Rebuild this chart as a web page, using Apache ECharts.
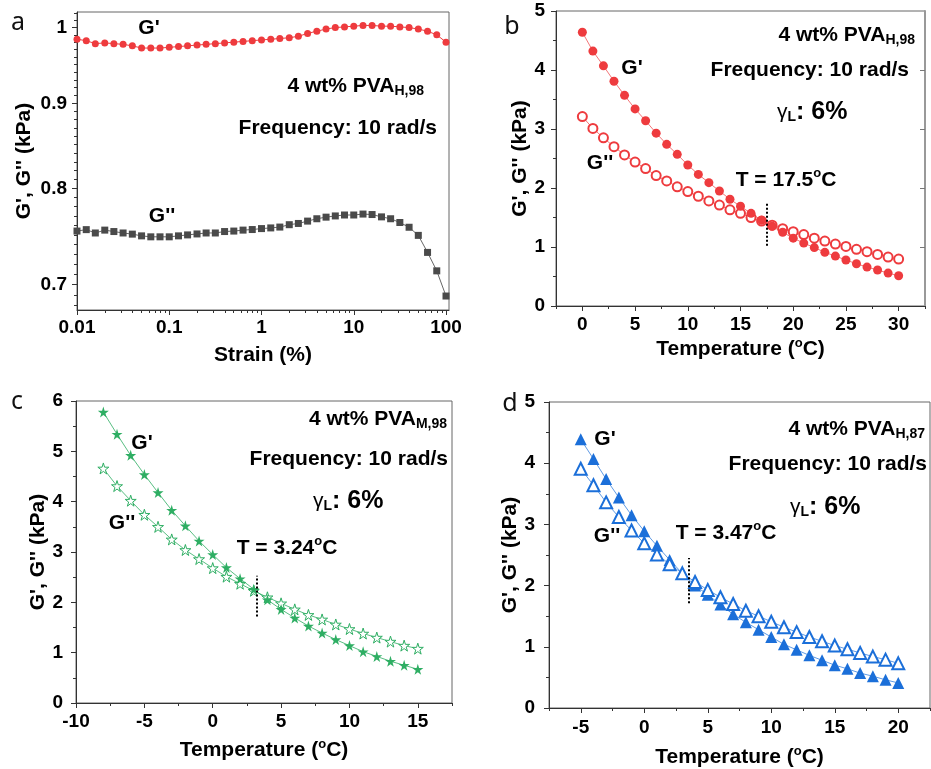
<!DOCTYPE html>
<html>
<head>
<meta charset="utf-8">
<script src="https://cdn.jsdelivr.net/npm/echarts@6/dist/echarts.min.js"></script>
<style>
  html, body { margin: 0; padding: 0; background: #fff; }
  #chart { width: 931px; height: 769px; }
</style>
</head>
<body>
<div id="chart"></div>
<script>
// ---- data ----
// (a) strain sweep, 4 wt% PVA H,98
const strain = [0.01, 0.0126, 0.0158, 0.02, 0.0251, 0.0316, 0.0398, 0.0501, 0.0631, 0.0794,
  0.1, 0.126, 0.158, 0.2, 0.251, 0.316, 0.398, 0.501, 0.631, 0.794,
  1, 1.26, 1.58, 2, 2.51, 3.16, 3.98, 5.01, 6.31, 7.94,
  10, 12.6, 15.8, 20, 25.1, 31.6, 39.8, 50.1, 63.1, 79.4, 100]
const strainG1 = [0.984, 0.982, 0.978, 0.979, 0.978, 0.977, 0.975, 0.972, 0.972, 0.972,
  0.973, 0.974, 0.975, 0.976, 0.977, 0.978, 0.979, 0.980, 0.981, 0.982,
  0.983, 0.984, 0.985, 0.986, 0.988, 0.992, 0.995, 0.998, 1.000, 1.001,
  1.002, 1.003, 1.003, 1.002, 1.002, 1.001, 1.000, 0.998, 0.995, 0.990, 0.980]
const strainG2 = [0.754, 0.7555, 0.752, 0.755, 0.7535, 0.752, 0.7508, 0.749, 0.748, 0.748,
  0.748, 0.749, 0.750, 0.751, 0.752, 0.752, 0.7535, 0.754, 0.755, 0.7556,
  0.7566, 0.7573, 0.7582, 0.7607, 0.762, 0.7645, 0.767, 0.7687, 0.770, 0.771,
  0.771, 0.772, 0.7715, 0.769, 0.767, 0.763, 0.758, 0.7495, 0.732, 0.7135, 0.689]
const aYTicks = [1, 0.9, 0.8, 0.7]
const aXTicks = [0.01, 0.1, 1, 10, 100]

// (b) temperature sweep, PVA H,98
const tempB = [0, 1, 2, 3, 4, 5, 6, 7, 8, 9, 10, 11, 12, 13, 14, 15, 16, 17, 18, 19, 20,
  21, 22, 23, 24, 25, 26, 27, 28, 29, 30]
const bG1 = [4.64, 4.32, 4.07, 3.81, 3.57, 3.34, 3.14, 2.93, 2.74, 2.57, 2.39, 2.23, 2.09, 1.95,
  1.81, 1.69, 1.57, 1.455, 1.35, 1.25, 1.15, 1.066, 0.99, 0.91, 0.846, 0.78, 0.716, 0.66, 0.61, 0.558, 0.513]
const bG2 = [3.21, 3.01, 2.85, 2.70, 2.56, 2.44, 2.33, 2.21, 2.12, 2.02, 1.94, 1.86, 1.78, 1.71,
  1.63, 1.57, 1.50, 1.44, 1.37, 1.31, 1.26, 1.21, 1.15, 1.10, 1.05, 1.01, 0.96, 0.92, 0.875, 0.83, 0.795]
const bCross = 17.5

// (c) temperature sweep, PVA M,98
const tempC = [-8, -7, -6, -5, -4, -3, -2, -1, 0, 1, 2, 3, 4, 5, 6, 7, 8, 9, 10, 11, 12, 13, 14, 15]
const cG1 = [5.78, 5.34, 4.92, 4.54, 4.18, 3.83, 3.52, 3.22, 2.95, 2.69, 2.47, 2.26, 2.05, 1.86,
  1.69, 1.53, 1.39, 1.26, 1.14, 1.02, 0.925, 0.83, 0.75, 0.67]
const cG2 = [4.66, 4.31, 4.02, 3.74, 3.50, 3.25, 3.04, 2.86, 2.68, 2.51, 2.37, 2.23, 2.10, 1.98,
  1.86, 1.75, 1.66, 1.56, 1.47, 1.38, 1.30, 1.22, 1.14, 1.08]
const cCross = 3.24

// (d) temperature sweep, PVA H,87
const tempD = [-5, -4, -3, -2, -1, 0, 1, 2, 3, 4, 5, 6, 7, 8, 9, 10, 11, 12, 13, 14, 15, 16, 17, 18, 19, 20]
const dG1 = [4.39, 4.07, 3.74, 3.44, 3.15, 2.89, 2.65, 2.42, 2.20, 2.00, 1.85, 1.69, 1.53, 1.40,
  1.28, 1.16, 1.04, 0.95, 0.86, 0.78, 0.70, 0.64, 0.57, 0.52, 0.46, 0.41]
const dG2 = [3.91, 3.64, 3.36, 3.12, 2.90, 2.69, 2.51, 2.35, 2.20, 2.06, 1.93, 1.81, 1.70, 1.59,
  1.50, 1.41, 1.32, 1.24, 1.16, 1.09, 1.02, 0.96, 0.90, 0.84, 0.79, 0.73]
const dCross = 3.47

const bXTicks = [0, 5, 10, 15, 20, 25, 30]
const cXTicks = [-10, -5, 0, 5, 10, 15]
const dXTicks = [-5, 0, 5, 10, 15, 20]

// ---- styling ----
const FONT = "'Liberation Sans', Arial, sans-serif"
const RED = '#ee3b3e'
const GREY = '#4a4a4a'
const GREEN = '#2eae63'
const BLUE = '#1b6fd9'
const STAR = 'path://M50,0 L61,35 L98,35 L68,57 L79,91 L50,70 L21,91 L32,57 L2,35 L39,35 Z'

const lg = Math.log10
const range = (a, b, s) => { const r = []; for (let v = a; v <= b + 1e-9; v += s) r.push(+v.toFixed(4)); return r }

const supRich = { sup: { fontSize: 13, fontWeight: 'bold', fontFamily: FONT, color: '#000', padding: [0, 0, 12, 0] } }
const nameStyle = { fontFamily: FONT, fontWeight: 'bold', fontSize: 21, color: '#000', rich: supRich }
const labelStyle = { fontFamily: FONT, fontWeight: 'bold', fontSize: 19, color: '#000' }

function majorX(grid, min, max, ticks, name, gap, margin, fmt) {
  return {
    type: 'value', gridIndex: grid, min: min, max: max, position: 'bottom',
    name: name, nameLocation: 'middle', nameGap: gap, nameTextStyle: nameStyle,
    axisLine: { show: true, onZero: false, lineStyle: { color: '#333', width: 1 } },
    axisTick: { show: true, customValues: ticks, length: 5, lineStyle: { color: '#333' } },
    axisLabel: Object.assign({ customValues: ticks, margin: margin, formatter: fmt }, labelStyle),
    splitLine: { show: false }
  }
}
function minorAxis(grid, min, max, ticks, pos) {
  return {
    type: 'value', gridIndex: grid, min: min, max: max, position: pos,
    axisLine: { show: false, onZero: false },
    axisTick: { show: true, customValues: ticks, length: 3, lineStyle: { color: '#333' } },
    axisLabel: { show: false }, splitLine: { show: false }
  }
}
function majorY(grid, min, max, ticks, gap, margin, fmt) {
  return {
    type: 'value', gridIndex: grid, min: min, max: max, position: 'left',
    name: "G', G'' (kPa)", nameLocation: 'middle', nameGap: gap, nameTextStyle: nameStyle,
    axisLine: { show: true, onZero: false, lineStyle: { color: '#333', width: 1 } },
    axisTick: { show: true, customValues: ticks, length: 5, lineStyle: { color: '#333' } },
    axisLabel: Object.assign({ customValues: ticks, margin: margin, formatter: fmt }, labelStyle),
    splitLine: { show: false }
  }
}

const gridBase = { show: true, borderColor: '#666', borderWidth: 1, backgroundColor: 'transparent' }

// panel a uses log10 coordinates on value axes
const aXMin = -2, aXMax = 2.0325, aYMin = -0.1702, aYMax = 0.0094
const powFmt = v => String(+Math.pow(10, v).toFixed(2))
const aXMinor = []
for (let d = -2; d < 2; d++) for (let m = 2; m <= 9; m++) aXMinor.push(d + lg(m))
const aYMinor = range(0.68, 1.02, 0.01).map(lg)

const xAxes = [
  majorX(0, aXMin, aXMax, aXTicks.map(lg), 'Strain (%)', 35, 8, powFmt),
  minorAxis(0, aXMin, aXMax, aXMinor, 'bottom'),
  majorX(1, -2.5, 32.5, bXTicks, 'Temperature ({sup|o}C)', 31, 9),
  minorAxis(1, -2.5, 32.5, range(-2.5, 32.5, 2.5), 'bottom'),
  majorX(2, -10, 17.5, cXTicks, 'Temperature ({sup|o}C)', 35, 9),
  minorAxis(2, -10, 17.5, range(-10, 17.5, 2.5), 'bottom'),
  majorX(3, -7.5, 22.5, dXTicks, 'Temperature ({sup|o}C)', 37, 10),
  minorAxis(3, -7.5, 22.5, range(-7.5, 22.5, 2.5), 'bottom')
]
const yAxes = [
  majorY(0, aYMin, aYMax, aYTicks.map(lg), 42, 10, v => String(+Math.pow(10, v).toFixed(1))),
  minorAxis(0, aYMin, aYMax, aYMinor, 'left'),
  majorY(1, 0, 5, [0, 1, 2, 3, 4, 5], 24, 11),
  minorAxis(1, 0, 5, range(0, 5, 0.5), 'left'),
  {
    type: 'value', gridIndex: 1, min: 0, max: 5, position: 'right',
    axisLine: { show: true, onZero: false, lineStyle: { color: '#999', width: 2 } },
    axisTick: { show: true, inside: true, customValues: [1, 2, 3, 4], length: 5, lineStyle: { color: '#777' } },
    axisLabel: { show: false }, splitLine: { show: false }
  },
  majorY(2, 0, 6, [0, 1, 2, 3, 4, 5, 6], 27, 13),
  minorAxis(2, 0, 6, range(0, 6, 0.5), 'left'),
  majorY(3, 0, 5, [0, 1, 2, 3, 4, 5], 25, 14),
  minorAxis(3, 0, 5, range(0, 5, 0.5), 'left')
]

const dotted = (x, y1, y2) => ({
  silent: true, symbol: 'none', label: { show: false },
  lineStyle: { color: '#000', type: 'dotted', width: 2 },
  data: [[{ coord: [x, y1] }, { coord: [x, y2] }]]
})
const zip = (xs, ys) => xs.map((x, i) => [x, ys[i]])

const series = [
  {
    name: "G'", type: 'line', xAxisIndex: 0, yAxisIndex: 0,
    data: strain.map((x, i) => [lg(x), lg(strainG1[i])]),
    symbol: 'circle', symbolSize: 7, itemStyle: { color: RED }, lineStyle: { color: RED, width: 1 }
  },
  {
    name: "G''", type: 'line', xAxisIndex: 0, yAxisIndex: 0,
    data: strain.map((x, i) => [lg(x), lg(strainG2[i])]),
    symbol: 'rect', symbolSize: 7, itemStyle: { color: GREY }, lineStyle: { color: '#666', width: 1 }
  },
  {
    name: "G''", type: 'line', xAxisIndex: 2, yAxisIndex: 2, data: zip(tempB, bG2),
    symbol: 'emptyCircle', symbolSize: 9, itemStyle: { color: RED, borderWidth: 1 }, lineStyle: { color: RED, width: 1, opacity: 0.7 }
  },
  {
    name: "G'", type: 'line', xAxisIndex: 2, yAxisIndex: 2, data: zip(tempB, bG1),
    symbol: 'circle', symbolSize: 9, itemStyle: { color: RED }, lineStyle: { color: RED, width: 1, opacity: 0.7 },
    markLine: dotted(bCross, 1.02, 1.75)
  },
  {
    name: "G''", type: 'line', xAxisIndex: 4, yAxisIndex: 5, data: zip(tempC, cG2),
    symbol: STAR, symbolSize: 11, itemStyle: { color: '#fff', borderColor: GREEN, borderWidth: 1 },
    lineStyle: { color: GREEN, width: 1, opacity: 0.8 }
  },
  {
    name: "G'", type: 'line', xAxisIndex: 4, yAxisIndex: 5, data: zip(tempC, cG1),
    symbol: STAR, symbolSize: 11, itemStyle: { color: GREEN }, lineStyle: { color: GREEN, width: 1, opacity: 0.8 },
    markLine: dotted(cCross, 1.72, 2.53)
  },
  {
    name: "G'", type: 'line', xAxisIndex: 6, yAxisIndex: 7, data: zip(tempD, dG1),
    symbol: 'triangle', symbolSize: 12, itemStyle: { color: BLUE }, lineStyle: { color: BLUE, width: 1, opacity: 0.7 },
    markLine: dotted(dCross, 1.71, 2.45)
  },
  {
    name: "G''", type: 'line', xAxisIndex: 6, yAxisIndex: 7, data: zip(tempD, dG2),
    symbol: 'emptyTriangle', symbolSize: 12, itemStyle: { color: BLUE, borderWidth: 1 },
    lineStyle: { color: BLUE, width: 1, opacity: 0.7 }
  }
]
series.forEach(s => { s.animation = false })

// ---- text annotations ----
const bold = (size) => ({ fontFamily: FONT, fontWeight: 'bold', fontSize: size, fill: '#000' })
const richDefs = {
  m: { fontFamily: FONT, fontWeight: 'bold', fontSize: 21, color: '#000' },
  s: { fontFamily: FONT, fontWeight: 'bold', fontSize: 14, color: '#000', padding: [11, 0, 0, 0] },
  g: { fontFamily: FONT, fontWeight: 'normal', fontSize: 21, color: '#000' },
  b: { fontFamily: FONT, fontWeight: 'bold', fontSize: 25, color: '#000' },
  t: { fontFamily: FONT, fontWeight: 'bold', fontSize: 21, color: '#000' },
  sup: { fontFamily: FONT, fontWeight: 'bold', fontSize: 13, color: '#000', padding: [0, 0, 13, 0] }
}
function txt(x, y, text, align, size) {
  return {
    type: 'text', x: x, y: y, silent: true,
    style: Object.assign(bold(size || 21), { text: text, align: align || 'left', verticalAlign: 'middle', rich: richDefs })
  }
}
function letter(x, y, t) {
  return {
    type: 'text', x: x, y: y, silent: true,
    style: { text: t, fontFamily: "'Noto Sans', sans-serif", fontSize: 25, fill: '#111', align: 'center', verticalAlign: 'middle' }
  }
}

const graphics = [
  letter(18, 23, 'a'), letter(512, 27, 'b'), letter(17, 402, 'c'), letter(510, 404, 'd'),
  // a
  txt(149, 28, "G'", 'center'),
  txt(162, 216, "G''", 'center'),
  txt(424, 86, '{m|4 wt% PVA}{s|H,98}', 'right'),
  txt(437, 128, 'Frequency: 10 rad/s', 'right'),
  // b
  txt(632, 68, "G'", 'center'),
  txt(600, 163, "G''", 'center'),
  txt(915, 35, '{m|4 wt% PVA}{s|H,98}', 'right'),
  txt(909, 70, 'Frequency: 10 rad/s', 'right'),
  txt(777, 112, '{g|γ}{s|L}{b|: 6%}', 'left'),
  txt(786, 180, '{t|T = 17.5}{sup|o}{t|C}', 'center'),
  // c
  txt(142, 443, "G'", 'center'),
  txt(122, 523, "G''", 'center'),
  txt(447, 419, '{m|4 wt% PVA}{s|M,98}', 'right'),
  txt(448, 459, 'Frequency: 10 rad/s', 'right'),
  txt(313, 501, '{g|γ}{s|L}{b|: 6%}', 'left'),
  txt(287, 548, '{t|T = 3.24}{sup|o}{t|C}', 'center'),
  // d
  txt(605, 439, "G'", 'center'),
  txt(607, 536, "G''", 'center'),
  txt(925, 429, '{m|4 wt% PVA}{s|H,87}', 'right'),
  txt(927, 464, 'Frequency: 10 rad/s', 'right'),
  txt(790, 507, '{g|γ}{s|L}{b|: 6%}', 'left'),
  txt(726, 533, '{t|T = 3.47}{sup|o}{t|C}', 'center')
]

const chart = echarts.init(document.getElementById('chart'), null, { renderer: 'canvas' })
chart.setOption({
  animation: false,
  backgroundColor: '#fff',
  grid: [
    Object.assign({ left: 77, top: 12, width: 372, height: 298 }, gridBase),
    Object.assign({ left: 556, top: 11, width: 369, height: 295 }, gridBase),
    Object.assign({ left: 76, top: 401, width: 376, height: 302 }, gridBase),
    Object.assign({ left: 549, top: 402, width: 381, height: 306 }, gridBase)
  ],
  xAxis: xAxes,
  yAxis: yAxes,
  series: series,
  graphic: graphics
})
</script>
</body>
</html>
